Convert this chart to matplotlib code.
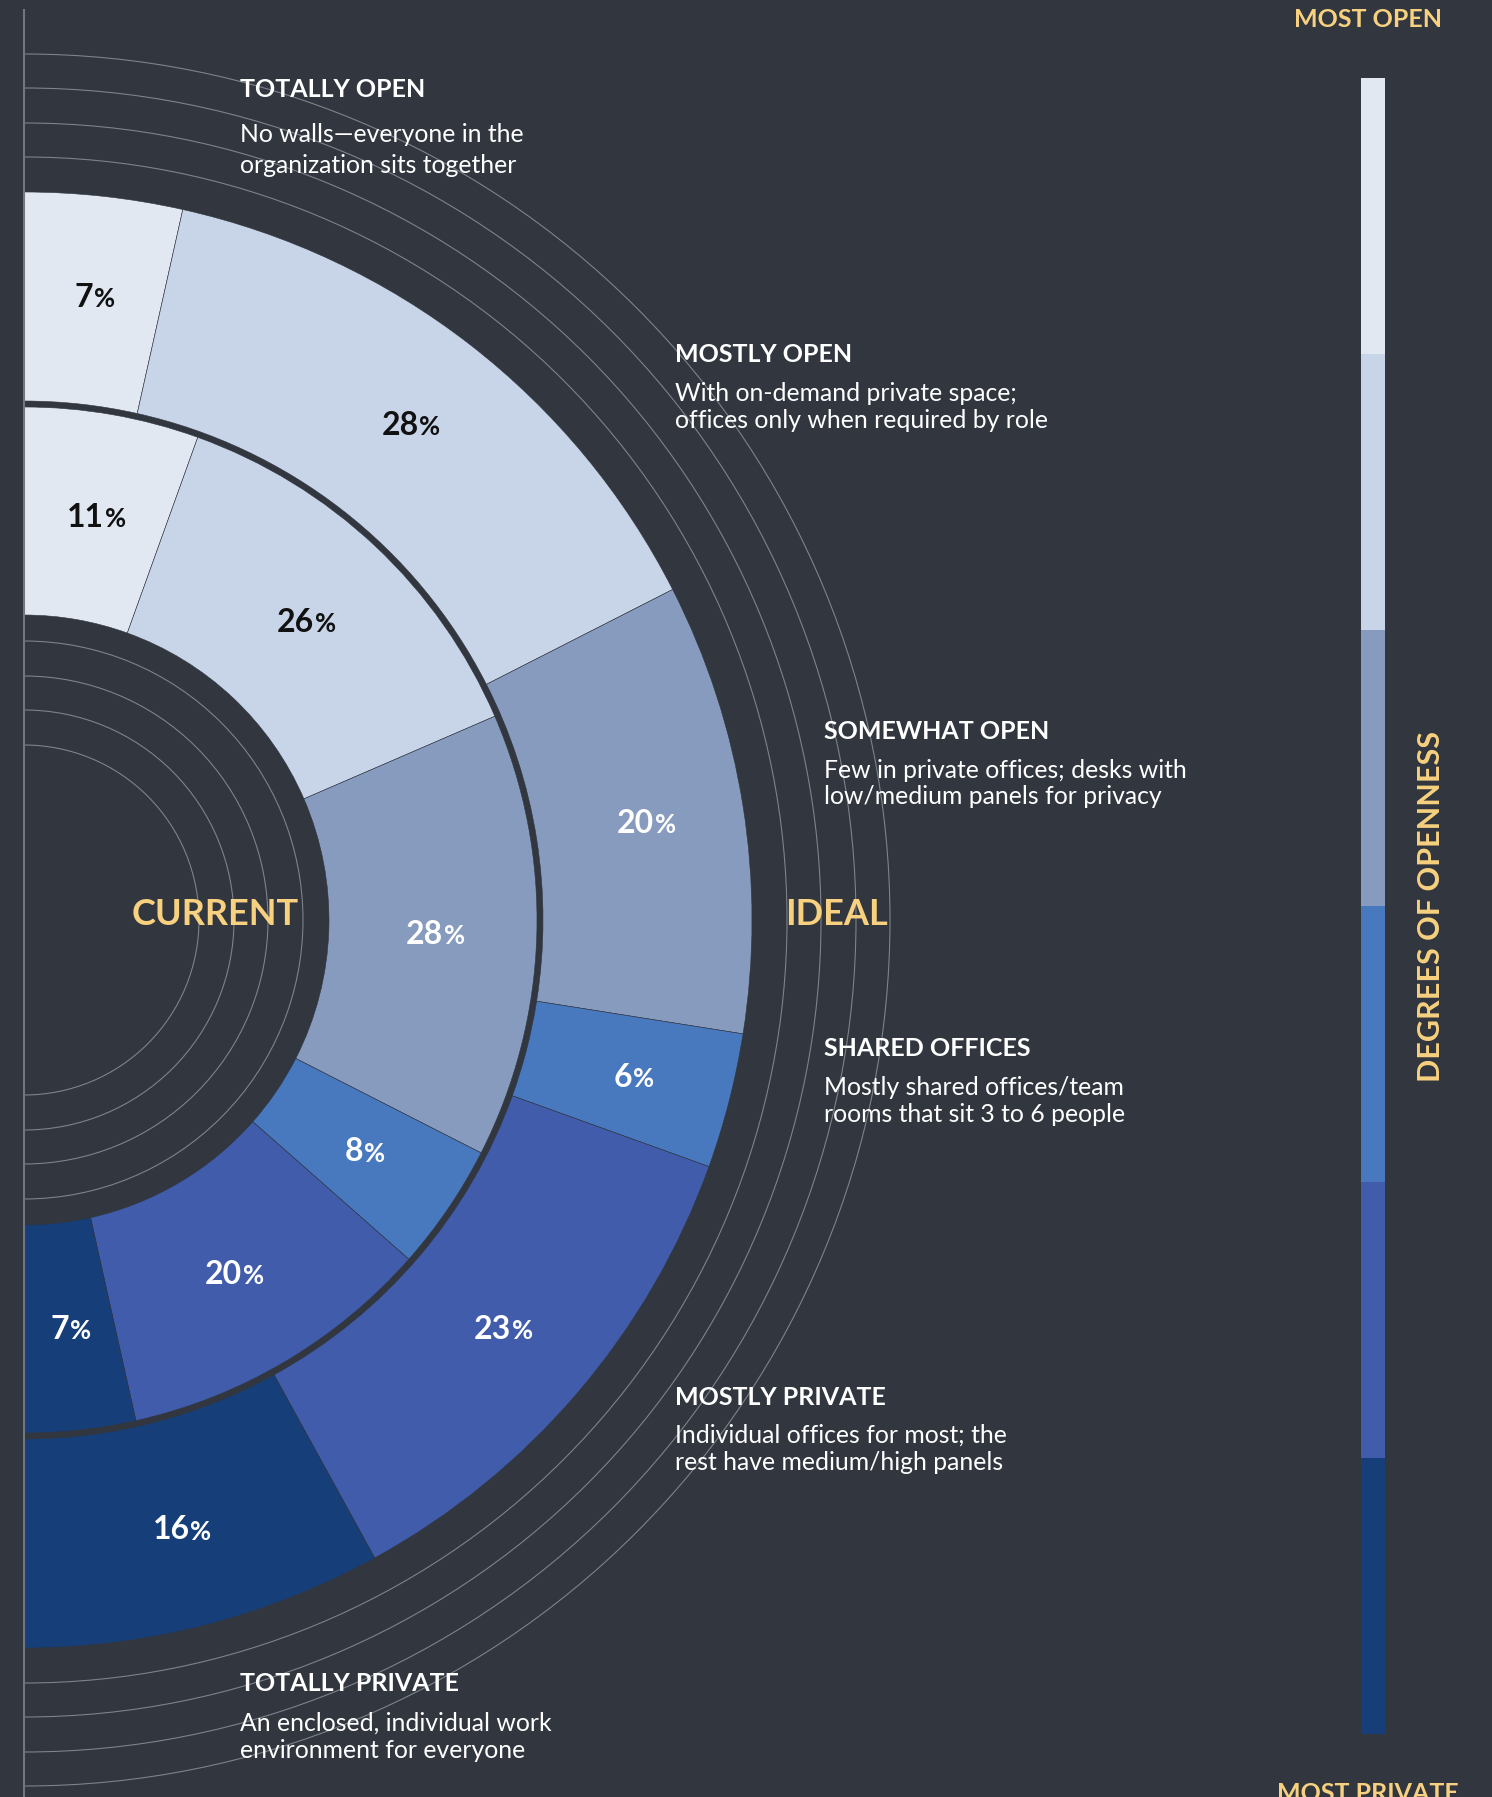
import matplotlib
matplotlib.use("Agg")
import matplotlib.pyplot as plt
from matplotlib.patches import Arc
import numpy as np

plt.rcParams['font.family'] = ['Lato', 'DejaVu Sans']

# data
categories = ["TOTALLY OPEN", "MOSTLY OPEN", "SOMEWHAT OPEN",
              "SHARED OFFICES", "MOSTLY PRIVATE", "TOTALLY PRIVATE"]
descriptions = [
    ["No walls\u2014everyone in the", "organization sits together"],
    ["With on-demand private space;", "offices only when required by role"],
    ["Few in private offices; desks with", "low/medium panels for privacy"],
    ["Mostly shared offices/team", "rooms that sit 3 to 6 people"],
    ["Individual offices for most; the", "rest have medium/high panels"],
    ["An enclosed, individual work", "environment for everyone"],
]
current = [11, 26, 28, 8, 20, 7]
ideal = [7, 28, 20, 6, 23, 16]
colors = ["#e1e8f2", "#c8d5e8", "#879bbe", "#4878bd", "#405cab", "#163f7a"]
label_colors = ["#111111", "#111111", "white", "white", "white", "white"]

bg = "#31363f"
gold = "#f7d17f"
W, H = 1492, 1797
cx, cy = 24, H - 920

fig = plt.figure(figsize=(W / 100, H / 100), dpi=100, facecolor=bg)
ax = fig.add_axes([0, 0, 1, 1])
ax.set_facecolor(bg)


def ring(vals, r_out, width, r_lab):
    total = sum(vals)
    wedges, _ = ax.pie(vals + [total], radius=r_out, center=(cx, cy),
                       startangle=90, counterclock=False,
                       colors=colors + [bg],
                       wedgeprops=dict(width=width, edgecolor=bg, linewidth=0.4))
    wedges[-1].set_visible(False)
    cum = np.cumsum([0] + vals)
    for i, v in enumerate(vals):
        ang = np.deg2rad(90 - 180 * (cum[i] + v / 2) / total)
        x = cx + r_lab * np.cos(ang)
        y = cy + r_lab * np.sin(ang)
        t = ax.text(x - 9, y - 11, str(v), ha='center', va='baseline',
                    fontsize=23, fontweight='bold', color=label_colors[i], zorder=5)
        ax.annotate('%', xy=(1, 0), xycoords=t, xytext=(0.5, 0.5),
                    textcoords='offset points', ha='left', va='bottom',
                    fontsize=18.5, fontweight='bold', color=label_colors[i], zorder=5)


ring(ideal, 728, 209, 628)
ring(current, 513, 208, 410)

ax.set_xlim(0, W)
ax.set_ylim(0, H)
ax.set_aspect('auto')
ax.axis('off')

# thin guide arcs
for r in [175, 210, 244, 279, 763, 797, 832, 866]:
    ax.add_patch(Arc((cx, cy), 2 * r, 2 * r, theta1=-90, theta2=90,
                     color='#7e838b', lw=0.8, zorder=1))
ax.plot([cx, cx], [0, H - 10], color='#72777f', lw=1.5, zorder=6)

ax.text(215, H - 925, "CURRENT", ha='center', va='baseline', fontsize=26,
        fontweight='bold', color=gold, zorder=7)
ax.text(837, H - 925, "IDEAL", ha='center', va='baseline', fontsize=26,
        fontweight='bold', color=gold, zorder=7)

# category notes
note_x = [240, 675, 824, 824, 675, 240]
note_y = [97, 362, 739, 1056, 1405, 1691]
note_gap = [[45, 76], [39, 66], [39, 65], [39, 66], [38, 65], [40, 67]]
for i, name in enumerate(categories):
    ax.text(note_x[i], H - note_y[i], name, ha='left', va='baseline',
            fontsize=18, fontweight='bold', color='white', zorder=7)
    for line, g in zip(descriptions[i], note_gap[i]):
        ax.text(note_x[i], H - note_y[i] - g, line, ha='left', va='baseline',
                fontsize=17.8, color='white', zorder=7)

# degrees of openness scale
seg_h = (1734 - 78) / len(colors)
for i, c in enumerate(colors):
    ax.bar(1373, seg_h, width=24, bottom=H - 78 - (i + 1) * seg_h, color=c,
           linewidth=0, zorder=3)
ax.text(1368, H - 27, "MOST OPEN", ha='center', va='baseline', fontsize=18,
        fontweight='bold', color=gold)
ax.text(1368, H - 1801, "MOST PRIVATE", ha='center', va='baseline', fontsize=18,
        fontweight='bold', color=gold)
ax.text(1431, H - 906, "DEGREES OF OPENNESS", ha='center', va='center',
        rotation=90, fontsize=22, fontweight='bold', color=gold)

fig.savefig("out.png", dpi=100, facecolor=bg)
